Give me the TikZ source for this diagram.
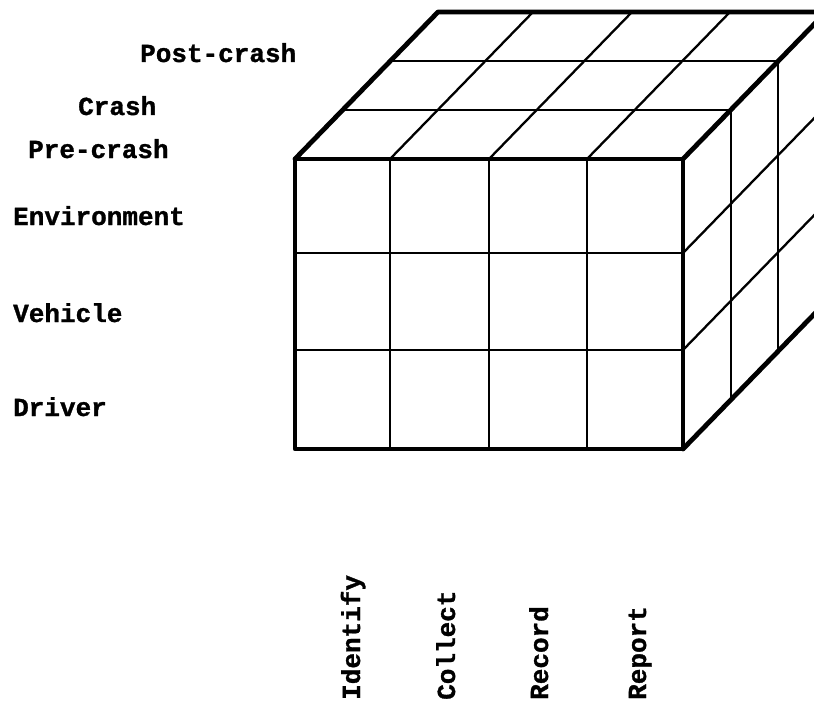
\documentclass[tikz,border=0pt]{standalone}
\usepackage{fontspec}
\setmonofont{Liberation Mono}[BoldFeatures={FakeBold=1.2}]
\begin{document}
\begin{tikzpicture}[x=1pt,y=-1pt,
  heavy/.style={line width=4.8pt,line cap=round,line join=round},
  grid/.style={line width=2.3pt,line cap=round},
  lbl/.style={font=\ttfamily\bfseries\fontsize{26}{26}\selectfont,inner sep=0pt},
  phase/.style={lbl,anchor=base west},
  task/.style={lbl,anchor=base west,rotate=90}]
\useasboundingbox (0,0) rectangle (814,706);
\clip (0,0) rectangle (814,706);
% depth step of one layer (pre-crash -> crash -> post-crash)
\def\dx{47.67}
\def\dy{-49}
% top face: layer lines and column diagonals
\foreach \k in {1,2}
  \draw[grid] (295+\k*\dx,159+\k*\dy) -- (683+\k*\dx,159+\k*\dy);
\foreach \x in {390,489,587}
  \draw[grid] (\x,159) -- (\x+3*\dx,159+3*\dy);
% right face: layer verticals and row diagonals
\foreach \k in {1,2}
  \draw[grid] (683+\k*\dx,159+\k*\dy) -- (683+\k*\dx,449+\k*\dy);
\foreach \y in {253,350}
  \draw[grid] (683,\y) -- (683+3*\dx,\y+3*\dy);
% front face grid
\foreach \x in {390,489,587}
  \draw[grid] (\x,159) -- (\x,449);
\foreach \y in {253,350}
  \draw[grid] (295,\y) -- (683,\y);
% outer edges of the cube
\draw[heavy] (295,159) rectangle (683,449);
\draw[heavy] (295,159) -- (295+3*\dx,159+3*\dy) -- (683+3*\dx,159+3*\dy)
  -- (683+3*\dx,449+3*\dy) -- (683,449);
\draw[heavy] (683,159) -- (683+3*\dx,159+3*\dy);
% phase and factor labels
\node[phase] (post) at (140,62) {Post-crash};
\node[phase] (crash) at (78,115) {Crash};
\node[phase] (pre) at (28,158) {Pre-crash};
\node[phase] (env) at (13,225) {Environment};
\node[phase] (veh) at (13,322) {Vehicle};
\node[phase] (drv) at (13,416) {Driver};
% task labels
\node[task] (ident) at (360,700) {Identify};
\node[task] (coll) at (455,700) {Collect};
\node[task] (rec) at (548,700) {Record};
\node[task] (rep) at (646,700) {Report};
\end{tikzpicture}
\end{document}
